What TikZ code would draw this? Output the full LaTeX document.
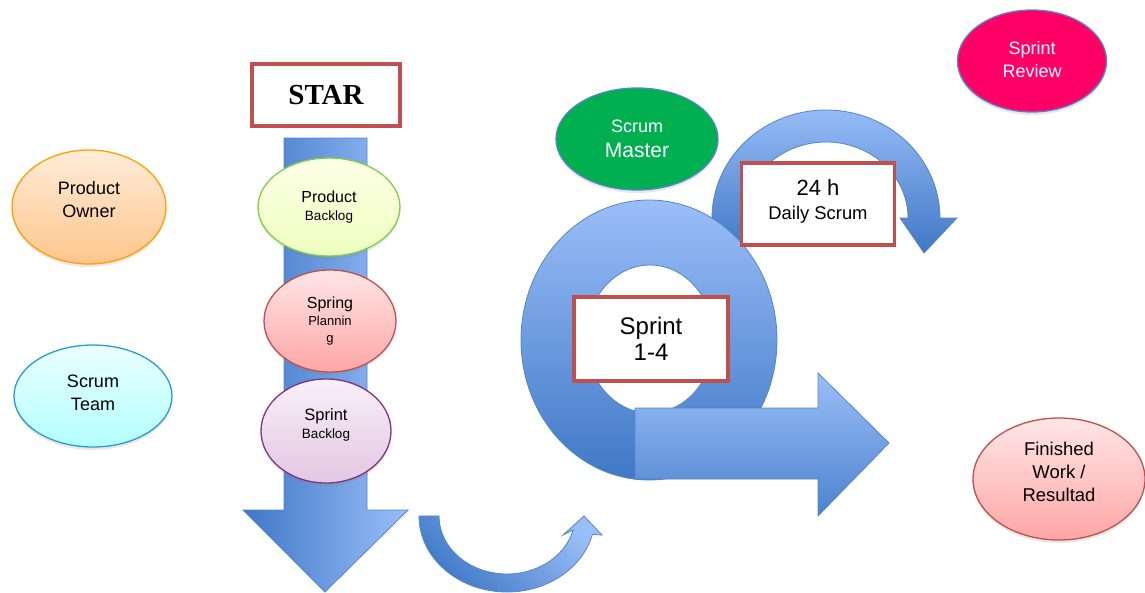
\documentclass[tikz,border=0pt]{standalone}
\usepackage{fontspec}
\setmainfont{Liberation Sans}
\newfontfamily\starfont{Liberation Serif}
\usetikzlibrary{shapes.geometric,shadows}

\definecolor{boxred}{HTML}{C0504D}
\definecolor{bluelight}{HTML}{9ABEF8}
\definecolor{bluedark}{HTML}{3F78C6}
\definecolor{blueline}{HTML}{5585C8}
\definecolor{mastergreen}{HTML}{00B050}
\definecolor{reviewpink}{HTML}{FF0066}

\tikzset{
  role/.style={ellipse, draw, line width=1.3pt, inner sep=0pt, align=center,
    font=\fontsize{18}{23}\selectfont,
    drop shadow={opacity=.18, shadow xshift=0pt, shadow yshift=-3pt}},
  redbox/.style={draw=boxred, line width=3.5pt, fill=white, inner sep=0pt, align=center},
  bluearrow/.style={draw=blueline, line width=0.8pt}
}

\begin{document}
\begin{tikzpicture}[x=1pt,y=1pt]
\useasboundingbox (0,0) rectangle (1145,-592);

% start column
\shadedraw[bluearrow, left color=bluedark, right color=bluelight]
  (284,-138) -- (367,-138) -- (367,-510) -- (408,-510) -- (325,-592)
  -- (243,-510) -- (284,-510) -- cycle;
\node[redbox, minimum width=148pt, minimum height=62pt, font=\starfont\bfseries\fontsize{29}{32}\selectfont]
  (star) at (326,-95) {STAR};
\node[role, draw=green!45!olive!70!white, top color=green!8!yellow!10!white, bottom color=green!25!yellow!25!white,
  minimum width=142pt, minimum height=98pt, font=\fontsize{13.5}{18}\selectfont] (pbacklog) at (329,-207)
  {{\fontsize{16}{18}\selectfont Product}\\Backlog};
\node[role, draw=boxred, top color=red!10!white, bottom color=red!35!white,
  minimum width=132pt, minimum height=102pt, font=\fontsize{13}{17}\selectfont] (planning) at (330,-321)
  {{\fontsize{16}{18}\selectfont Spring}\\Plannin\\g};
\node[role, draw=violet!60!gray, top color=violet!6!white, bottom color=violet!22!white,
  minimum width=130pt, minimum height=104pt, font=\fontsize{13.5}{18}\selectfont, text depth=15pt]
  (sbacklog) at (326,-431) {{\fontsize{16.5}{18}\selectfont Sprint}\\Backlog};

% bottom turn
\shadedraw[bluearrow, top color=bluelight, bottom color=bluedark, shading angle=-45]
  (419,-516) arc[start angle=180, end angle=346, x radius=88, y radius=76]
  -- (602,-535) -- (584,-516) -- (563,-535) -- (573,-530)
  arc[start angle=346, end angle=180, x radius=68, y radius=58] -- cycle;

% daily loop
\shadedraw[bluearrow, top color=bluelight, bottom color=bluedark]
  (826,-218) ++(195:114 and 108)
  arc[start angle=195, end angle=0, x radius=114, y radius=108]
  -- (957,-218) -- (924,-253) -- (900,-218) -- (908,-218)
  arc[start angle=0, end angle=195, x radius=82, y radius=76] -- cycle;

% sprint ring
\shadedraw[bluearrow, top color=bluelight, bottom color=bluedark, even odd rule]
  (649,-340) ellipse [x radius=128, y radius=140]
  (650,-339) ellipse [x radius=64, y radius=74];
\node[redbox, minimum width=154pt, minimum height=84pt, font=\fontsize{24}{26}\selectfont]
  (sprint) at (651,-339) {Sprint\\1-4};
\shadedraw[bluearrow, top color=bluelight, bottom color=bluedark!85!bluelight]
  (635,-408) -- (818,-408) -- (818,-373) -- (889,-443) -- (818,-516)
  -- (818,-479) -- (635,-479) -- cycle;
\node[redbox, minimum width=153pt, minimum height=82pt, font=\fontsize{18.4}{24}\selectfont, text depth=9pt]
  (daily) at (818,-204) {{\fontsize{22}{24}\selectfont 24 h}\\Daily Scrum};

% roles
\node[role, draw=blueline, fill=mastergreen, text=white,
  minimum width=162pt, minimum height=102pt, font=\fontsize{21}{25}\selectfont] (master) at (637,-139)
  {{\fontsize{18}{22}\selectfont Scrum}\\Master};
\node[role, draw=blueline, fill=reviewpink, text=white,
  minimum width=149pt, minimum height=102pt, text depth=4pt] (review) at (1032,-61)
  {Sprint\\Review};
\node[role, draw=boxred, top color=red!10!white, bottom color=red!35!white,
  minimum width=172pt, minimum height=122pt, font=\fontsize{18.5}{23}\selectfont, text depth=14pt]
  (finished) at (1059,-479) {Finished\\Work /\\Resultad};
\node[role, draw=orange!75!yellow, top color=orange!15!white, bottom color=orange!45!white,
  minimum width=154pt, minimum height=114pt, text depth=16pt] (owner) at (89,-207)
  {Product\\Owner};
\node[role, draw=cyan!60!teal, top color=cyan!8!white, bottom color=cyan!30!white,
  minimum width=158pt, minimum height=102pt, text depth=6pt] (team) at (93,-396)
  {Scrum\\Team};
\end{tikzpicture}
\end{document}
